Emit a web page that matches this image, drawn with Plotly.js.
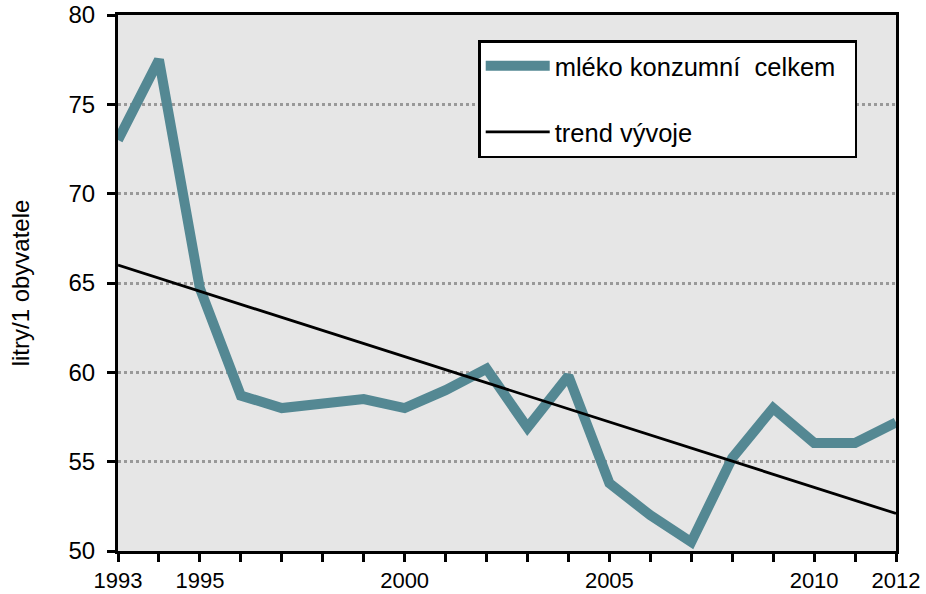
<!DOCTYPE html>
<html>
<head>
<meta charset="utf-8">
<script src="https://cdn.plot.ly/plotly-3.0.1.min.js"></script>
<style>html,body{margin:0;padding:0;background:#fff;}#chart{width:926px;height:594px;}</style>
</head>
<body>
<div id="chart"></div>
<script>
const years = [1993,1994,1995,1996,1997,1998,1999,2000,2001,2002,2003,2004,2005,2006,2007,2008,2009,2010,2011,2012];
const milk = [73.0,77.5,64.7,58.7,58.0,58.2,58.5,58.0,59.0,60.2,56.9,59.8,53.8,52.0,50.5,55.2,58.0,56.05,56.05,57.2];
const trendYears = [1993, 2012];
const trendValues = [66.0, 52.1];
const xTickVals = [1993,1995,2000,2005,2010,2012];
const xTickText = ['1993','1995','2000','2005','2010','2012'];
const seriesNames = ['mléko konzumní  celkem', 'trend vývoje'];
const yTitle = 'litry/1 obyvatele';

const traces = [
  {x: years, y: milk, type:'scatter', mode:'lines', name: seriesNames[0] + '\u00a0\u00a0', legendgroup:'a',
   line:{color:'#548893', width:10}},
  {x: trendYears, y: trendValues, type:'scatter', mode:'lines', name: seriesNames[1], legendgroup:'b',
   line:{color:'#000000', width:2.8}}
];
const layout = {
  width:926, height:594,
  margin:{l:118, r:30, t:15, b:43},
  paper_bgcolor:'#ffffff', plot_bgcolor:'#e6e6e6',
  font:{family:'Liberation Sans, Arial, sans-serif', size:24, color:'#000'},
  showlegend:true,
  legend:{x:0.463, y:0.953, xanchor:'left', yanchor:'top', bgcolor:'#ffffff', bordercolor:'#000', borderwidth:2.5,
    font:{size:25.5}, itemwidth:64, tracegroupgap:30, traceorder:'grouped'},
  xaxis:{range:[1993,2012], tickvals:xTickVals, ticktext:xTickText, ticks:'outside', ticklen:8, tickwidth:3, tickcolor:'#000',
    showline:true, linewidth:3, linecolor:'#000', mirror:true, showgrid:false, zeroline:false,
    minor:{ticks:'outside', ticklen:8, tickwidth:3, tickcolor:'#000', dtick:1, tick0:1993, showgrid:false},
    tickfont:{size:22}},
  yaxis:{range:[50,80], dtick:5, tick0:50, ticks:'outside', ticklen:8, tickwidth:3, tickcolor:'#000',
    showline:true, linewidth:3, linecolor:'#000', mirror:true, showgrid:true, gridcolor:'#999999', gridwidth:3, griddash:'dot',
    zeroline:false, tickfont:{size:24}, ticklabelstandoff:7,
    title:{text:yTitle, font:{size:24}, standoff:33}}
};
Plotly.newPlot('chart', traces, layout, {staticPlot:true});
</script>
</body>
</html>
